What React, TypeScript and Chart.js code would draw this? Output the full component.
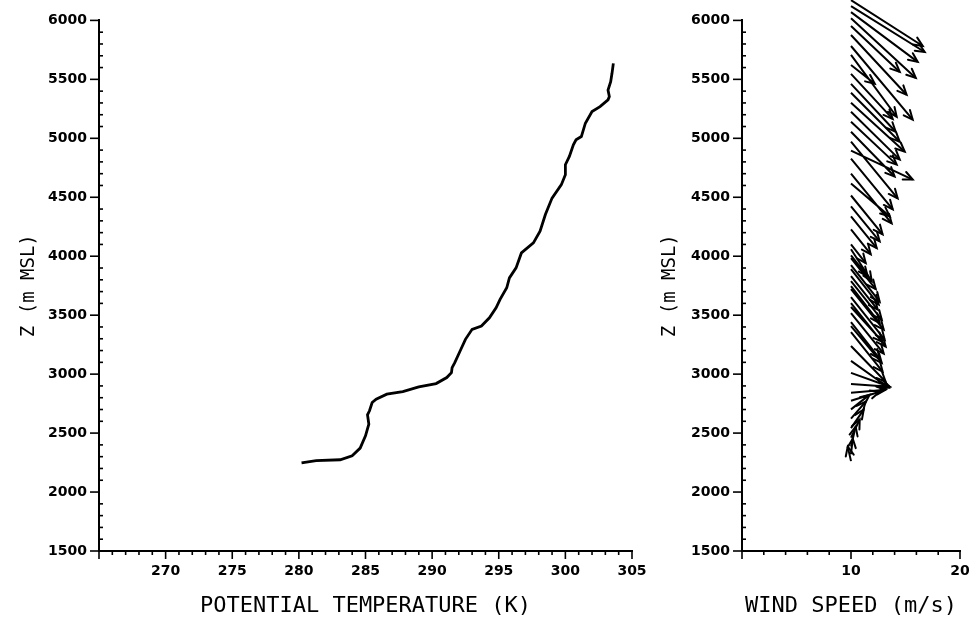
import React, { useEffect, useRef } from 'react';
import { Chart, registerables } from 'chart.js';

Chart.register(...registerables);

// ---- Potential temperature profile ----
const thetaK = [280.2, 281.3, 283.1, 284.0, 284.6, 285.0, 285.25, 285.15, 285.3, 285.5, 285.8, 286.6, 287.8, 289.0, 290.3, 291.1, 291.45, 291.5, 291.7, 292.1, 292.5, 293.0, 293.7, 294.3, 294.8, 295.1, 295.6, 295.8, 296.3, 296.7, 297.6, 298.1, 298.5, 299.0, 299.7, 300.0, 300.0, 300.3, 300.6, 300.8, 301.2, 301.5, 302.0, 302.6, 303.2, 303.3, 303.2, 303.4, 303.5, 303.6];
const thetaZ = [2247, 2266, 2274, 2308, 2373, 2477, 2576, 2655, 2689, 2759, 2788, 2830, 2852, 2892, 2920, 2971, 3013, 3055, 3097, 3196, 3295, 3380, 3408, 3478, 3563, 3634, 3732, 3816, 3901, 4028, 4113, 4212, 4353, 4493, 4607, 4691, 4776, 4846, 4945, 4987, 5015, 5128, 5227, 5269, 5326, 5354, 5410, 5480, 5551, 5635];

// ---- Wind vectors (tail at windBase on the speed axis) ----
const windBase = 10;
const windTailZ = [6172, 6121, 6070, 6019, 5952, 5876, 5783, 5707, 5622, 5546, 5462, 5386, 5301, 5225, 5140, 5056, 4972, 4895, 4828, 4701, 4617, 4515, 4422, 4338, 4228, 4101, 4059, 4008, 3983, 3924, 3890, 3831, 3788, 3746, 3721, 3653, 3602, 3569, 3518, 3442, 3408, 3357, 3239, 3112, 3011, 2917, 2842, 2774, 2701, 2622, 2542, 2462, 2386, 2322, 2262];
const windHeadSpeed = [16.58, 16.76, 16.12, 15.94, 14.47, 15.1, 15.66, 14.19, 12.18, 13.82, 14.1, 14.47, 14.93, 14.47, 14.19, 14.0, 14.28, 15.66, 13.83, 13.73, 13.55, 12.9, 12.63, 12.36, 11.81, 11.35, 11.9, 11.53, 12.27, 12.63, 12.54, 12.45, 12.82, 12.63, 13.0, 13.09, 13.18, 12.9, 13.0, 12.63, 12.82, 12.9, 13.18, 13.46, 13.55, 13.55, 13.18, 12.63, 11.71, 11.35, 11.17, 10.8, 10.43, 10.16, 9.7];
const windHeadZ = [5783, 5732, 5648, 5512, 5563, 5369, 5158, 5183, 5462, 5165, 5056, 4971, 4887, 4819, 4777, 4676, 4490, 4650, 4397, 4279, 4338, 4186, 4126, 4068, 4017, 3941, 3788, 3830, 3721, 3614, 3590, 3547, 3462, 3433, 3377, 3292, 3233, 3273, 3174, 3131, 3095, 3021, 2936, 2885, 2893, 2893, 2868, 2851, 2826, 2767, 2699, 2615, 2555, 2453, 2385];

// ---- Axes ----
const zRange = [1500, 6000];
const zTickLabels = [1500, 2000, 2500, 3000, 3500, 4000, 4500, 5000, 5500, 6000];
const thetaRange = [265, 305];
const thetaTickLabels = [270, 275, 280, 285, 290, 295, 300, 305];
const windRange = [0, 20];
const windTickLabels = [10, 20];

const TICK_FONT = { family: '"DejaVu Sans", sans-serif', size: 14, weight: 'bold' as const };
const TITLE_FONT = { family: '"DejaVu Sans Mono", monospace', size: 22 };
const YTITLE_FONT = { family: '"DejaVu Sans Mono", monospace', size: 19 };

const plotterTicks = {
  id: 'plotterTicks',
  afterDraw(chart: any, _args: any, opts: any) {
    const ctx = chart.ctx;
    const xs = chart.scales.x;
    const ys = chart.scales.y;
    const area = chart.chartArea;
    ctx.save();
    ctx.strokeStyle = '#000';
    ctx.lineWidth = 1.6;
    ys.ticks.forEach((t: any) => {
      const p = ys.getPixelForValue(t.value);
      const major = opts.yMajor.includes(t.value);
      ctx.beginPath();
      if (major) {
        ctx.moveTo(area.left - 9, p);
        ctx.lineTo(area.left, p);
      } else {
        ctx.moveTo(area.left - 1, p);
        ctx.lineTo(area.left + 4, p);
      }
      ctx.stroke();
    });
    xs.ticks.forEach((t: any) => {
      const p = xs.getPixelForValue(t.value);
      const major = opts.xMajor.includes(t.value);
      ctx.beginPath();
      ctx.moveTo(p, area.bottom);
      ctx.lineTo(p, area.bottom + (major ? 8 : 4));
      ctx.stroke();
    });
    ctx.restore();
  },
};

const arrowHeads = {
  id: 'arrowHeads',
  afterDatasetsDraw(chart: any, _args: any, opts: any) {
    if (!opts || !opts.enabled) return;
    const ctx = chart.ctx;
    const xs = chart.scales.x;
    const ys = chart.scales.y;
    ctx.save();
    ctx.strokeStyle = '#000';
    ctx.lineWidth = 2;
    ctx.lineCap = 'round';
    for (let i = 0; i < windTailZ.length; i++) {
      const tx = xs.getPixelForValue(windBase);
      const ty = ys.getPixelForValue(windTailZ[i]);
      const hx = xs.getPixelForValue(windHeadSpeed[i]);
      const hy = ys.getPixelForValue(windHeadZ[i]);
      const a = Math.atan2(hy - ty, hx - tx);
      const L = 10;
      const w = 0.42;
      ctx.beginPath();
      ctx.moveTo(hx - L * Math.cos(a - w), hy - L * Math.sin(a - w));
      ctx.lineTo(hx, hy);
      ctx.lineTo(hx - L * Math.cos(a + w), hy - L * Math.sin(a + w));
      ctx.stroke();
    }
    ctx.restore();
  },
};

function yAxis(width: number, titlePad: number) {
  return {
    type: 'linear' as const,
    position: 'left' as const,
    min: zRange[0],
    max: zRange[1],
    grid: { display: false, drawTicks: false },
    border: { display: true, color: '#000', width: 2 },
    ticks: {
      stepSize: 100,
      autoSkip: false,
      padding: 12,
      color: '#000',
      font: TICK_FONT,
      callback: (v: any) => (zTickLabels.includes(Number(v)) ? String(v) : ''),
    },
    title: { display: true, text: 'Z (m MSL)', color: '#000', font: YTITLE_FONT, padding: { top: titlePad, bottom: 0 } },
    afterFit: (s: any) => {
      s.width = width;
    },
  };
}

function xAxis(range: number[], step: number, labels: number[], title: string) {
  return {
    type: 'linear' as const,
    position: 'bottom' as const,
    min: range[0],
    max: range[1],
    grid: { display: false, drawTicks: false },
    border: { display: true, color: '#000', width: 2 },
    ticks: {
      stepSize: step,
      autoSkip: false,
      maxRotation: 0,
      minRotation: 0,
      padding: 12,
      color: '#000',
      font: TICK_FONT,
      callback: (v: any) => (labels.includes(Number(v)) ? String(v) : ''),
    },
    title: { display: true, text: title, color: '#000', font: TITLE_FONT, padding: { top: 0, bottom: 0 } },
    afterFit: (s: any) => {
      s.height = 68;
      s.paddingRight = 0;
      s.paddingLeft = 0;
    },
  };
}

export default function App() {
  const leftRef = useRef<HTMLCanvasElement>(null);
  const rightRef = useRef<HTMLCanvasElement>(null);

  useEffect(() => {
    const left = new Chart(leftRef.current!, {
      type: 'line',
      data: {
        datasets: [
          {
            data: thetaK.map((x, i) => ({ x, y: thetaZ[i] })),
            borderColor: '#000',
            borderWidth: 2.8,
            pointRadius: 0,
            tension: 0,
            fill: false,
          },
        ],
      },
      options: {
        responsive: false,
        animation: false,
        layout: { padding: { top: 18, right: 18, left: 0, bottom: 0 } },
        plugins: {
          legend: { display: false },
          tooltip: { enabled: false },
          plotterTicks: { yMajor: zTickLabels, xMajor: [265, ...thetaTickLabels] },
        } as any,
        scales: {
          x: xAxis(thetaRange, 1, thetaTickLabels, 'POTENTIAL TEMPERATURE (K)'),
          y: yAxis(99, 18),
        } as any,
      },
      plugins: [plotterTicks],
    });

    const shafts: any[] = [];
    for (let i = 0; i < windTailZ.length; i++) {
      shafts.push({ x: windBase, y: windTailZ[i] });
      shafts.push({ x: windHeadSpeed[i], y: windHeadZ[i] });
      shafts.push({ x: windBase, y: null });
    }

    const right = new Chart(rightRef.current!, {
      type: 'line',
      data: {
        datasets: [
          {
            data: shafts,
            borderColor: '#000',
            borderWidth: 2,
            pointRadius: 0,
            tension: 0,
            spanGaps: false,
            fill: false,
            clip: false as any,
          },
        ],
      },
      options: {
        responsive: false,
        animation: false,
        layout: { padding: { top: 18, right: 9, left: 0, bottom: 0 } },
        plugins: {
          legend: { display: false },
          tooltip: { enabled: false },
          plotterTicks: { yMajor: zTickLabels, xMajor: [0, ...windTickLabels] },
          arrowHeads: { enabled: true },
        } as any,
        scales: {
          x: xAxis(windRange, 2, windTickLabels, 'WIND SPEED (m/s)'),
          y: yAxis(92, 9),
        } as any,
      },
      plugins: [plotterTicks, arrowHeads],
    });

    return () => {
      left.destroy();
      right.destroy();
    };
  }, []);

  return (
    <div style={{ position: 'absolute', left: 0, top: 0, width: 969, height: 619, background: '#fff' }}>
      <canvas ref={leftRef} width={650} height={619} style={{ position: 'absolute', left: 0, top: 0 }} />
      <canvas ref={rightRef} width={319} height={619} style={{ position: 'absolute', left: 650, top: 0 }} />
    </div>
  );
}
